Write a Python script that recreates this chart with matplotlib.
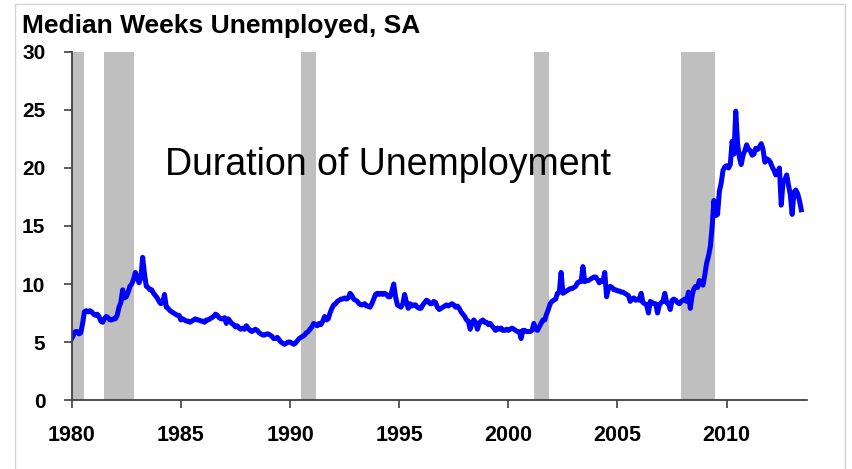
import numpy as np
import matplotlib
matplotlib.use("Agg")
import matplotlib.pyplot as plt
from matplotlib.patches import Rectangle

# median weeks unemployed, seasonally adjusted, monthly from Jan 1980
start_year = 1980
median_weeks = [
    5.3, 5.6, 5.9, 5.9, 5.7, 5.8, 6.6, 7.6, 7.7, 7.6, 7.7, 7.6,          # 1980
    7.4, 7.3, 7.4, 7.2, 6.8, 6.7, 7.0, 7.2, 7.1, 6.9, 6.9, 7.0,          # 1981
    7.0, 7.3, 8.0, 8.4, 9.5, 8.8, 8.9, 9.3, 9.8, 10.0, 10.4, 11.0,       # 1982
    10.6, 10.1, 10.5, 12.3, 10.9, 9.8, 9.7, 9.5, 9.5, 9.2, 9.0, 8.8,     # 1983
    8.5, 8.3, 8.4, 9.1, 8.0, 7.9, 7.7, 7.6, 7.5, 7.4, 7.3, 7.3,          # 1984
    6.9, 7.0, 6.9, 6.8, 6.8, 6.7, 6.8, 6.9, 7.0, 6.9, 6.9, 6.8,          # 1985
    6.8, 6.7, 6.9, 6.9, 7.0, 7.1, 7.2, 7.4, 7.3, 7.1, 7.0, 7.0,          # 1986
    7.1, 6.6, 7.0, 6.8, 6.6, 6.5, 6.3, 6.4, 6.2, 6.1, 6.2, 6.1,          # 1987
    6.4, 6.2, 6.0, 5.9, 6.0, 6.1, 6.0, 5.8, 5.7, 5.6, 5.6, 5.7,          # 1988
    5.7, 5.6, 5.5, 5.3, 5.3, 5.4, 5.2, 5.0, 4.9, 4.8, 4.9, 5.0,          # 1989
    5.0, 4.9, 4.8, 4.9, 5.1, 5.3, 5.4, 5.5, 5.6, 5.8, 5.9, 6.1,          # 1990
    6.3, 6.6, 6.5, 6.4, 6.6, 6.5, 6.8, 7.2, 6.9, 7.0, 7.5, 7.9,          # 1991
    8.2, 8.3, 8.5, 8.6, 8.7, 8.7, 8.8, 8.7, 8.8, 9.2, 9.0, 8.7,          # 1992
    8.6, 8.5, 8.3, 8.2, 8.2, 8.3, 8.1, 8.1, 8.0, 8.3, 8.7, 9.1,          # 1993
    9.2, 9.1, 9.2, 9.1, 9.2, 9.1, 8.9, 8.9, 9.4, 10.0, 8.9, 8.2,         # 1994
    8.1, 8.0, 8.3, 9.1, 8.4, 7.9, 8.3, 8.1, 8.2, 8.2, 8.0, 7.9,          # 1995
    7.9, 8.2, 8.4, 8.6, 8.5, 8.3, 8.3, 8.5, 8.4, 8.0, 7.8, 7.9,          # 1996
    8.0, 8.1, 8.2, 8.1, 8.2, 8.3, 8.2, 8.0, 8.1, 7.9, 7.6, 7.4,          # 1997
    7.2, 6.9, 6.8, 6.1, 6.6, 6.9, 6.7, 6.1, 6.6, 6.8, 6.9, 6.7,          # 1998
    6.7, 6.5, 6.6, 6.4, 6.2, 6.0, 6.2, 6.1, 6.2, 6.0, 6.0, 6.1,          # 1999
    6.0, 6.1, 6.2, 6.1, 6.0, 5.9, 5.9, 5.3, 6.0, 6.0, 5.9, 5.9,          # 2000
    5.9, 6.0, 6.6, 6.1, 6.0, 6.3, 6.6, 6.9, 6.9, 7.4, 7.8, 8.3,          # 2001
    8.5, 8.6, 8.7, 9.2, 9.3, 11.0, 9.2, 9.3, 9.4, 9.5, 9.6, 9.6,         # 2002
    9.7, 9.8, 10.1, 10.2, 10.2, 11.5, 10.2, 10.3, 10.3, 10.4, 10.5, 10.6,  # 2003
    10.6, 10.4, 10.1, 10.3, 10.2, 11.0, 8.9, 9.6, 9.8, 9.7, 9.5, 9.5,    # 2004
    9.4, 9.4, 9.3, 9.3, 9.2, 9.1, 9.0, 8.5, 8.7, 8.8, 8.6, 8.7,          # 2005
    8.6, 9.2, 8.4, 8.3, 8.2, 7.5, 8.5, 8.4, 8.3, 8.3, 7.5, 8.2,          # 2006
    8.4, 8.5, 9.2, 8.4, 8.3, 7.8, 8.6, 8.7, 8.6, 8.4, 8.3, 8.5,          # 2007
    8.6, 8.7, 8.5, 9.3, 7.9, 9.0, 9.6, 9.8, 9.7, 10.3, 10.1, 9.9,        # 2008
    10.8, 11.8, 12.4, 13.2, 14.9, 17.2, 15.9, 16.0, 18.0, 18.7, 19.8, 20.1,  # 2009
    20.2, 20.0, 20.3, 22.3, 21.2, 24.9, 22.1, 20.9, 20.3, 21.1, 21.5, 22.0,  # 2010
    21.6, 21.5, 21.1, 21.2, 21.7, 21.6, 21.8, 22.1, 21.6, 20.5, 20.8, 20.7,  # 2011
    20.5, 20.1, 19.8, 19.4, 19.6, 20.0, 16.8, 18.8, 19.0, 19.4, 18.5, 17.7,  # 2012
    16.0, 17.9, 18.1, 17.8, 17.2, 16.4,                                  # 2013
]

# NBER recessions (start, end) in decimal years
recessions = [(1980.0, 1980.55), (1981.5, 1982.87), (1990.5, 1991.17),
              (2001.17, 2001.88), (2007.92, 2009.48)]

y_ticks = [0, 5, 10, 15, 20, 25, 30]
x_ticks = [1980, 1985, 1990, 1995, 2000, 2005, 2010]

dates = start_year + np.arange(len(median_weeks)) / 12.0

W, H = 852, 469
fig = plt.figure(figsize=(W / 100, H / 100), dpi=100)
ax = fig.add_axes([71.7 / W, 1 - 400 / H, (807 - 71.7) / W, 348 / H])

# light frame around the whole chart
fig.patches.append(Rectangle((15 / W, -0.05), (845 - 15) / W, 1.05 - 4 / H,
                             transform=fig.transFigure, fill=False,
                             edgecolor="#D4D4D4", linewidth=1.0))

for r0, r1 in recessions:
    ax.axvspan(r0, r1, color="#BFBFBF", linewidth=0, zorder=1)

ax.plot(dates, median_weeks, color="#0000FF", linewidth=3.6,
        solid_joinstyle="round", zorder=3)

ax.set_xlim(1980, 2013.68)
ax.set_ylim(0, 30)
ax.set_yticks(y_ticks)
ax.set_xticks(x_ticks)

for s in ["top", "right"]:
    ax.spines[s].set_visible(False)
for s in ["left", "bottom"]:
    ax.spines[s].set_color("#404040")
    ax.spines[s].set_linewidth(1.3)
    ax.spines[s].set_zorder(4)

ax.tick_params(axis="y", direction="out", length=6, width=1.2, color="#404040", pad=13)
ax.tick_params(axis="x", direction="out", length=6, width=1.2, color="#404040", pad=12)
for lab in ax.get_yticklabels():
    lab.set_fontfamily("Liberation Sans")
    lab.set_fontweight("bold")
    lab.set_fontsize(15)
for lab in ax.get_xticklabels():
    lab.set_fontfamily("Liberation Sans")
    lab.set_fontweight("bold")
    lab.set_fontsize(15.5)

fig.text(22 / W, 1 - 32.5 / H, "Median Weeks Unemployed, SA", fontsize=19,
         fontweight="bold", family="Liberation Sans", va="baseline", ha="left")

ax.text(1984.27, 19.4, "Duration of Unemployment", fontsize=27,
        family="Liberation Sans", va="baseline", ha="left", zorder=5)

fig.savefig("out.png", dpi=100)
